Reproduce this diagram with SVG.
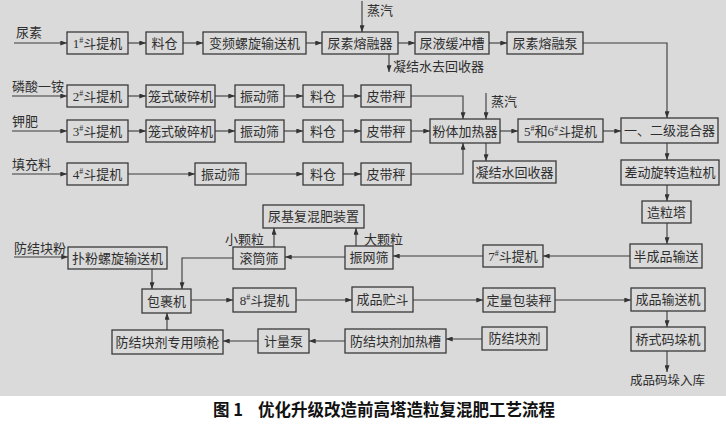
<svg xmlns="http://www.w3.org/2000/svg" width="726" height="424" viewBox="0 0 726 424">
<style>
.bg{fill:#dadada}
.b{fill:none;stroke:#3a3a3a;stroke-width:1.3}
.t{font-family:"Liberation Serif","Noto Sans CJK SC",serif;font-size:13px;fill:#2e2e2e;text-anchor:middle}
.l{font-family:"Liberation Serif","Noto Sans CJK SC",serif;font-size:13px;fill:#2e2e2e}
.s{font-size:8px}
.c{fill:none;stroke:#3a3a3a;stroke-width:1.1;marker-end:url(#a)}
.cap{font-family:"Noto Sans CJK SC",sans-serif;font-size:16.5px;font-weight:bold;fill:#111}
</style>
<defs>
<marker id="a" viewBox="0 0 8 6" refX="8" refY="3" markerWidth="7" markerHeight="5" markerUnits="userSpaceOnUse" orient="auto">
<path d="M0,0 L8,3 L0,6 z" fill="#333"/>
</marker>
</defs>
<rect x="0" y="0" width="726" height="396" class="bg"/>
<rect x="0" y="396" width="726" height="28" fill="#fff"/>

<g id="connectors">
<path class="c" d="M14 43 H67"/>
<path class="c" d="M128 43 H146"/>
<path class="c" d="M183 43 H203"/>
<path class="c" d="M306 43 H322"/>
<path class="c" d="M362 1 V32"/>
<path class="c" d="M398 43 H415"/>
<path class="c" d="M489 43 H507"/>
<path class="c" d="M583 43 H667 V118"/>
<path class="c" d="M389 54 V72"/>

<path class="c" d="M12 96 H67"/>
<path class="c" d="M128 96 H146"/>
<path class="c" d="M215 96 H235"/>
<path class="c" d="M284 96 H303"/>
<path class="c" d="M343 96 H361"/>
<path class="c" d="M411 96 H463 V119"/>

<path class="c" d="M12 131 H67"/>
<path class="c" d="M128 131 H146"/>
<path class="c" d="M215 131 H235"/>
<path class="c" d="M284 131 H303"/>
<path class="c" d="M343 131 H361"/>
<path class="c" d="M411 131 H430"/>
<path class="c" d="M486 93 V119"/>
<path class="c" d="M500 131 H518"/>
<path class="c" d="M603 131 H621"/>
<path class="c" d="M486 143 V161"/>
<path class="c" d="M667 143 V160"/>
<path class="c" d="M667 185 V201"/>
<path class="c" d="M667 223 V244"/>

<path class="c" d="M12 174 H67"/>
<path class="c" d="M128 174 H195"/>
<path class="c" d="M246 174 H303"/>
<path class="c" d="M343 174 H361"/>
<path class="c" d="M411 174 H463 V143"/>

<path class="c" d="M630 256 H543"/>
<path class="c" d="M483 256 H393"/>
<path class="c" d="M345 257 H285"/>
<path class="c" d="M356 246 V228"/>
<path class="c" d="M274 247 V228"/>
<path class="c" d="M233 258 H182 V289"/>
<path class="c" d="M14 257 H68"/>
<path class="c" d="M152 269 V289"/>

<path class="c" d="M191 300 H233"/>
<path class="c" d="M296 300 H352"/>
<path class="c" d="M413 300 H483"/>
<path class="c" d="M555 300 H631"/>
<path class="c" d="M667 311 V327"/>
<path class="c" d="M667 351 V372"/>

<path class="c" d="M482 339 H446"/>
<path class="c" d="M345 341 H309"/>
<path class="c" d="M258 341 H223"/>
<path class="c" d="M167 330 V313"/>
</g>

<g id="labels">
<text class="l" x="16" y="37">尿素</text>
<text class="l" x="12" y="91">磷酸一铵</text>
<text class="l" x="12" y="126">钾肥</text>
<text class="l" x="12" y="169">填充料</text>
<text class="l" x="14" y="253">防结块粉</text>
<text class="l" x="367" y="15">蒸汽</text>
<text class="l" x="393" y="71">凝结水去回收器</text>
<text class="l" x="491" y="106">蒸汽</text>
<text class="l" x="225" y="244">小颗粒</text>
<text class="l" x="364" y="244">大颗粒</text>
<text class="l" x="630" y="385" style="font-size:12.5px">成品码垛入库</text>
</g>

<g id="n1"><rect class="b" x="67" y="32" width="61" height="22"/><text class="t" x="97.5" y="47.5">1<tspan class="s" dy="-5">#</tspan><tspan dy="5">斗提机</tspan></text></g>
<g id="n2"><rect class="b" x="146" y="32" width="37" height="22"/><text class="t" x="164.5" y="47.5">料仓</text></g>
<g id="n3"><rect class="b" x="203" y="32" width="103" height="22"/><text class="t" x="254.5" y="47.5">变频螺旋输送机</text></g>
<g id="n4"><rect class="b" x="322" y="32" width="76" height="22"/><text class="t" x="360" y="47.5">尿素熔融器</text></g>
<g id="n5"><rect class="b" x="415" y="32" width="74" height="22"/><text class="t" x="452" y="47.5">尿液缓冲槽</text></g>
<g id="n6"><rect class="b" x="507" y="32" width="76" height="22"/><text class="t" x="545" y="47.5">尿素熔融泵</text></g>

<g id="n7"><rect class="b" x="67" y="85" width="61" height="22"/><text class="t" x="97.5" y="100.5">2<tspan class="s" dy="-5">#</tspan><tspan dy="5">斗提机</tspan></text></g>
<g id="n8"><rect class="b" x="146" y="85" width="69" height="22"/><text class="t" x="180.5" y="100.5">笼式破碎机</text></g>
<g id="n9"><rect class="b" x="235" y="85" width="49" height="22"/><text class="t" x="259.5" y="100.5">振动筛</text></g>
<g id="n10"><rect class="b" x="303" y="85" width="40" height="22"/><text class="t" x="323" y="100.5">料仓</text></g>
<g id="n11"><rect class="b" x="361" y="85" width="50" height="22"/><text class="t" x="386" y="100.5">皮带秤</text></g>

<g id="n12"><rect class="b" x="67" y="120" width="61" height="22"/><text class="t" x="97.5" y="135.5">3<tspan class="s" dy="-5">#</tspan><tspan dy="5">斗提机</tspan></text></g>
<g id="n13"><rect class="b" x="146" y="120" width="69" height="22"/><text class="t" x="180.5" y="135.5">笼式破碎机</text></g>
<g id="n14"><rect class="b" x="235" y="120" width="49" height="22"/><text class="t" x="259.5" y="135.5">振动筛</text></g>
<g id="n15"><rect class="b" x="303" y="120" width="40" height="22"/><text class="t" x="323" y="135.5">料仓</text></g>
<g id="n16"><rect class="b" x="361" y="120" width="50" height="22"/><text class="t" x="386" y="135.5">皮带秤</text></g>
<g id="n17"><rect class="b" x="430" y="119" width="70" height="24"/><text class="t" x="465" y="135.5">粉体加热器</text></g>
<g id="n18"><rect class="b" x="518" y="119" width="85" height="23"/><text class="t" x="560.5" y="135.5">5<tspan class="s" dy="-5">#</tspan><tspan dy="5">和6</tspan><tspan class="s" dy="-5">#</tspan><tspan dy="5">斗提机</tspan></text></g>
<g id="n19"><rect class="b" x="621" y="118" width="97" height="25"/><text class="t" x="669.5" y="135">一、二级混合器</text></g>
<g id="n20"><rect class="b" x="473" y="161" width="83" height="22"/><text class="t" x="514.5" y="176.5">凝结水回收器</text></g>

<g id="n21"><rect class="b" x="67" y="163" width="61" height="22"/><text class="t" x="97.5" y="178.5">4<tspan class="s" dy="-5">#</tspan><tspan dy="5">斗提机</tspan></text></g>
<g id="n22"><rect class="b" x="195" y="163" width="51" height="22"/><text class="t" x="220.5" y="178.5">振动筛</text></g>
<g id="n23"><rect class="b" x="303" y="163" width="40" height="22"/><text class="t" x="323" y="178.5">料仓</text></g>
<g id="n24"><rect class="b" x="361" y="163" width="50" height="22"/><text class="t" x="386" y="178.5">皮带秤</text></g>
<g id="n25"><rect class="b" x="621" y="160" width="98" height="25"/><text class="t" x="670" y="177">差动旋转造粒机</text></g>
<g id="n26"><rect class="b" x="642" y="201" width="49" height="22"/><text class="t" x="666.5" y="216.5">造粒塔</text></g>

<g id="n27"><rect class="b" x="263" y="205" width="101" height="23"/><text class="t" x="313.5" y="221">尿基复混肥装置</text></g>
<g id="n28"><rect class="b" x="68" y="247" width="99" height="22"/><text class="t" x="117.5" y="262.5">扑粉螺旋输送机</text></g>
<g id="n29"><rect class="b" x="233" y="247" width="52" height="22"/><text class="t" x="259" y="262.5">滚筒筛</text></g>
<g id="n30"><rect class="b" x="345" y="246" width="48" height="23"/><text class="t" x="369" y="262">振网筛</text></g>
<g id="n31"><rect class="b" x="483" y="245" width="60" height="22"/><text class="t" x="513" y="260.5">7<tspan class="s" dy="-5">#</tspan><tspan dy="5">斗提机</tspan></text></g>
<g id="n32"><rect class="b" x="630" y="244" width="72" height="24"/><text class="t" x="666" y="260.5">半成品输送</text></g>

<g id="n33"><rect class="b" x="142" y="289" width="49" height="24"/><text class="t" x="166.5" y="305.5">包裹机</text></g>
<g id="n34"><rect class="b" x="233" y="288" width="63" height="24"/><text class="t" x="264.5" y="304.5">8<tspan class="s" dy="-5">#</tspan><tspan dy="5">斗提机</tspan></text></g>
<g id="n35"><rect class="b" x="352" y="287" width="61" height="25"/><text class="t" x="382.5" y="304">成品贮斗</text></g>
<g id="n36"><rect class="b" x="483" y="288" width="72" height="24"/><text class="t" x="519" y="304.5">定量包装秤</text></g>
<g id="n37"><rect class="b" x="631" y="288" width="74" height="23"/><text class="t" x="668" y="304">成品输送机</text></g>
<g id="n38"><rect class="b" x="631" y="327" width="74" height="24"/><text class="t" x="668" y="343.5">桥式码垛机</text></g>

<g id="n39"><rect class="b" x="112" y="330" width="111" height="24"/><text class="t" x="167.5" y="346.5">防结块剂专用喷枪</text></g>
<g id="n40"><rect class="b" x="258" y="329" width="51" height="24"/><text class="t" x="283.5" y="345.5">计量泵</text></g>
<g id="n41"><rect class="b" x="345" y="329" width="101" height="24"/><text class="t" x="395.5" y="345.5">防结块剂加热槽</text></g>
<g id="n42"><rect class="b" x="482" y="327" width="65" height="23"/><text class="t" x="514.5" y="343">防结块剂</text></g>

<g id="caption">
<text class="cap" x="213" y="416">图 1</text>
<text class="cap" x="258" y="416">优化升级改造前高塔造粒复混肥工艺流程</text>
</g>
</svg>
